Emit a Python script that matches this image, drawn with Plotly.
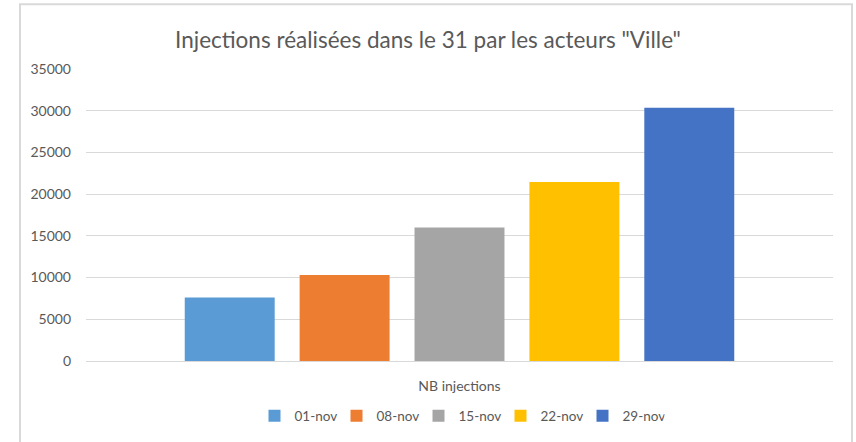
import plotly.graph_objects as go

category = ["NB injections"]
series_names = ["01-nov", "08-nov", "15-nov", "22-nov", "29-nov"]
series_values = [7600, 10300, 16000, 21450, 30350]
series_colors = ["#5B9BD5", "#ED7D31", "#A5A5A5", "#FFC000", "#4472C4"]
y_ticks = [0, 5000, 10000, 15000, 20000, 25000, 30000, 35000]

fig = go.Figure()
for name, val, col in zip(series_names, series_values, series_colors):
    fig.add_trace(go.Bar(x=category, y=[val], name=name, marker_color=col,
                         marker_line_width=0))

W, H = 856, 442
L, R, T, B = 86, 23, 69, 80
pw, ph = W - L - R, H - T - B

def px_x(p):
    return (p - L) / pw

def px_y(p):
    return (H - B - p) / ph

fig.update_layout(
    width=W, height=H,
    margin=dict(l=L, r=R, t=T, b=B),
    paper_bgcolor="white", plot_bgcolor="white",
    font=dict(family="Lato, Open Sans, sans-serif", color="#595959", size=13),
    title=dict(text='Injections réalisées dans le 31 par les acteurs "Ville"',
               x=0.5, xanchor="center", y=1 - 40 / H, yanchor="middle",
               font=dict(size=22.5, color="#595959")),
    barmode="group", bargap=0.231, bargroupgap=0.217,
    showlegend=True,
    legend=dict(orientation="h", x=0.5, xanchor="center", y=px_y(416), yanchor="middle",
                font=dict(size=13.5, color="#595959"), traceorder="normal",
                itemclick=False, entrywidth=37),
    xaxis=dict(showgrid=False, showline=False, ticks="", tickfont=dict(size=14),
               ticklabelstandoff=15),
    yaxis=dict(range=[0, 35000], tickvals=y_ticks, ticktext=[str(v) for v in y_ticks],
               showgrid=True, gridcolor="#D9D9D9", gridwidth=1.4,
               zeroline=True, zerolinecolor="#D9D9D9", zerolinewidth=1.4,
               showline=False, ticks="", ticklabelstandoff=14,
               tickfont=dict(size=14)),
    shapes=[dict(type="path", xref="paper", yref="paper",
                 path=f"M {px_x(20)} {px_y(446)} L {px_x(20)} {px_y(4)} L {px_x(852)} {px_y(4)} L {px_x(852)} {px_y(446)}",
                 line=dict(color="#D9D9D9", width=2), layer="below")],
)

fig.write_html("out.html", config={"displayModeBar": False},
               post_script="document.body.style.margin='0';document.body.style.padding='0';")
